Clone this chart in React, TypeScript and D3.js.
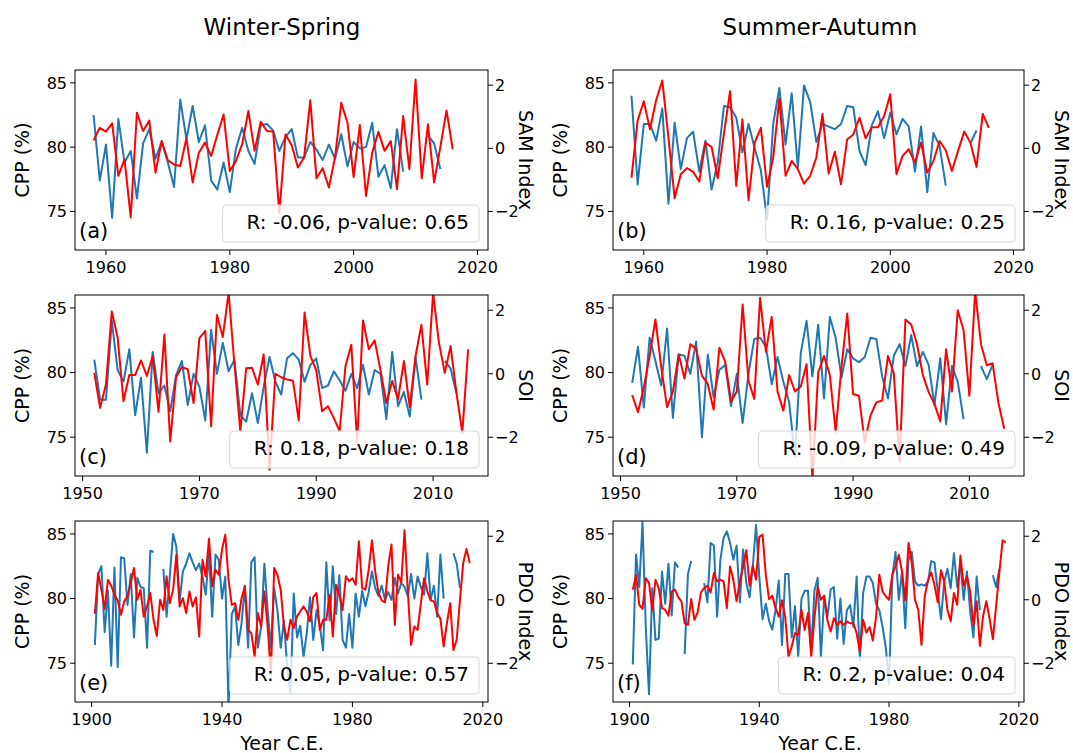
import { useEffect, useRef } from 'react';
import * as d3 from 'd3';

const FONT = '"DejaVu Sans", sans-serif';
const BLUE = '#1f77b4';
const RED = '#ff0000';

// (a) Winter-Spring CPP vs SAM
const cppWsSamStart = 1958;
const cppWsSam = [
  82.5, 77.4, 80.2, 74.5, 82.2, 78.8, 79.7, 76.0, 80.3, 81.4,
  79.1, 80.4, 78.8, 76.9, 83.7, 80.6, 83.2, 80.4, 81.7, 77.4,
  76.7, 78.8, 76.5, 79.9, 81.5, 79.7, 78.7, 81.7, 81.8, 81.3,
  79.7, 80.8, 81.4, 79.2, 79.2, 80.4, 79.8, 79.0, 80.2, 79.1,
  81.0, 78.5, 80.4, 79.9, 80.0, 81.9, 77.7, 78.6, 76.8, 81.4,
  78.1, null, null, null, 80.9, 80.3, 78.3,
];
const samWsStart = 1958;
const samWs = [
  0.25, 0.65, 0.53, 0.79, -0.87, -0.35, -2.19, 1.13, 0.55, 0.88,
  -0.77, 0.23, -0.38, -0.51, -0.56, 0.32, -1.08, -0.14, 0.18, -0.24,
  0.44, 1.07, -0.72, -0.4, 0.13, 1.18, -0.08, 0.84, 0.55, 0.53,
  -2.05, 0.44, 0.1, -0.61, -0.29, 1.52, -0.95, -0.63, -1.24, -0.29,
  1.44, 0.81, -0.91, 0.74, -1.51, -0.14, 0.52, -0.08, 0.23, -1.29,
  1.02, -0.66, 2.18, -0.95, 0.76, -1.08, 0.04, 1.2, -0.03,
];

// (b) Summer-Autumn CPP vs SAM
const cppSaSamStart = 1958;
const cppSaSam = [
  84.0, 77.1, 81.8, 81.8, 80.5, 83.0, 75.6, 81.9, 78.3, 80.7,
  81.2, 78.1, 80.5, 76.7, 78.8, 83.2, 83.1, 82.3, 79.6, 81.8,
  79.9, 78.2, 74.4, 81.8, 84.6, 80.2, 84.2, 78.4, 84.8, 83.5,
  80.4, 81.8, 81.6, 81.4, 81.8, 83.2, 83.1, 79.7, 78.6, 81.7,
  82.8, 80.7, 82.7, 81.0, 82.2, 81.6, 78.1, 81.6, 76.5, 81.1,
  80.1, 77.0, null, null, null, 80.3, 81.3,
];
const samSaStart = 1958;
const samSa = [
  -0.93, 0.88, 1.49, 0.6, 1.52, 2.15, 0.34, -1.58, -0.82, -0.63,
  -0.74, -1.05, 0.18, 0.04, -0.95, 0.46, 1.81, -1.19, 0.92, -1.64,
  0.18, 0.65, -1.22, -0.29, 1.58, -0.87, -0.4, -0.66, -1.12, -0.87,
  -0.29, 1.09, -0.8, -0.11, -1.14, 0.28, 0.44, 0.97, 0.32, 0.67,
  0.67, 1.02, 1.71, -0.82, -0.24, -0.03, -0.45, 0.18, -0.77, -0.4,
  0.23, -0.06, -0.72, -0.08, 0.53, 0.18, -0.59, 1.09, 0.65,
];

// (c) Winter-Spring CPP vs SOI
const cppWsSoiStart = 1952;
const cppWsSoi = [
  81.0, 77.9, 77.9, 84.0, 80.2, 79.3, 81.8, 76.7, 79.6, 73.8,
  81.6, 78.4, 79.0, 77.0, 79.8, 80.9, 77.5, 79.9, 78.9, 76.3,
  83.3, 79.9, 82.3, 80.1, 81.0, 76.7, 76.2, 78.4, 76.1, 78.9,
  81.2, 79.3, 78.3, 81.1, 81.5, 81.0, 79.3, 80.6, 81.1, 78.8,
  79.0, 80.1, 79.4, 78.6, 79.9, 78.8, 80.6, 78.3, 80.2, 79.9,
  76.4, 81.6, 77.4, 78.5, 76.6, 81.2, 77.9, null, null, null,
  80.9, 80.3, 78.4,
];
const soiWsStart = 1952;
const soiWs = [
  0.03, -1.07, -0.34, 1.96, 1.14, -0.86, -0.04, -0.04, 0.42, -0.07,
  0.56, -1.2, 1.24, -2.13, -0.11, 0.21, 0.14, -0.92, 1.12, 1.35,
  -1.65, 1.85, 1.16, 2.55, 0.29, -1.81, 0.17, 0.19, -0.34, 0.61,
  -3.02, 0.0, -0.11, -0.18, -0.21, -1.47, 1.93, 0.56, 0.11, -1.18,
  -1.02, -1.39, -1.81, 0.24, 0.91, -2.13, 1.68, 0.77, 1.05, 0.11,
  -0.92, -0.23, -0.81, 0.4, -1.05, 0.56, 1.54, -0.34, 2.55, 0.98,
  0.03, 0.87, -0.6, -1.86, 0.77,
];

// (d) Summer-Autumn CPP vs SOI
const cppSaSoiStart = 1952;
const cppSaSoi = [
  79.2, 82.0, 77.3, 82.7, 80.9, 79.0, 83.4, 76.5, 81.4, 81.3,
  79.9, 82.4, 75.0, 81.4, 78.1, 80.2, 80.6, 77.4, 79.9, 76.1,
  79.9, 82.6, 82.7, 82.0, 79.1, 81.2, 79.3, 77.7, 73.5, 81.5,
  84.0, 79.7, 83.7, 78.0, 84.3, 82.7, 79.6, 81.8, 81.1, 80.8,
  81.2, 82.7, 82.6, 79.7, 78.0, 81.3, 82.2, 80.5, 82.9, 80.5,
  81.6, 80.6, 77.5, 81.1, 76.0, 80.5, 79.3, 76.4, null, null,
  80.5, 79.5, 80.6,
];
const soiSaStart = 1952;
const soiSa = [
  -0.67, -1.21, -0.43, 0.56, 1.71, 0.2, -1.05, -0.56, 0.61, -0.15,
  0.93, 0.79, -0.06, -0.32, -1.13, 0.82, 0.38, -0.88, -0.56, 2.18,
  -0.22, -0.79, 2.39, 0.69, 1.79, -0.56, -1.16, -0.04, -0.56, -0.4,
  0.3, -3.3, 0.04, 0.56, -0.04, -1.83, 0.2, 1.9, -0.64, -0.69,
  -2.15, -1.31, -0.9, -0.84, 0.56, 0.02, -2.77, 1.71, 1.55, 0.93,
  -0.04, -0.58, -0.95, -1.5, 0.77, -0.56, 2.0, 1.38, -0.69, 2.6,
  0.93, 0.27, 0.33, -0.92, -1.73,
];

// (e) Winter-Spring CPP vs PDO
const cppWsPdoStart = 1901;
const cppWsPdo = [
  76.4, 81.9, 82.5, 77.4, 80.6, 74.8, 82.4, 74.7, 83.2, 83.1,
  79.5, 81.9, 77.0, 81.6, 80.9, 80.8, 76.2, 83.7, 83.6, null,
  null, 82.3, 78.6, 81.8, 85.0, 84.0, 79.8, 82.1, 82.7, 83.5,
  82.8, 82.2, 82.7, 81.7, 80.3, 83.5, 78.6, 83.4, 83.0, 80.0,
  81.7, 71.5, 78.8, 79.4, 76.4, 78.1, 81.0, 76.2, 82.8, 83.2,
  76.2, 77.8, 82.7, 79.1, 76.2, 80.8, 79.1, 76.2, 78.3, 74.7,
  72.7, 80.4, 77.0, 77.9, 75.5, 77.3, 80.1, 76.8, 79.1, 77.9,
  76.0, 82.8, 78.3, 82.5, 78.8, 81.8, 76.8, 76.2, 78.8, 76.2,
  80.4, 78.6, 80.6, 79.4, 80.5, 82.1, 80.8, 80.2, 81.0, 79.9,
  80.5, 79.9, 81.6, 80.4, 81.2, 80.9, 80.2, 81.9, 80.0, 81.7,
  80.9, 80.3, 83.5, 79.9, 81.0, 78.6, 83.4, 80.0, null, null,
  83.5, 82.7, 80.8,
];
const pdoWsStart = 1901;
const pdoWs = [
  -0.44, 0.84, 0.32, -0.29, 0.63, 0.44, 0.16, -0.02, -0.47, -0.05,
  0.11, 0.53, 1.0, 0.0, 0.32, -0.53, -0.21, 0.21, -0.63, -1.14,
  0.0, -0.32, 0.74, -0.11, 0.32, 1.42, -0.21, 0.05, -0.42, 0.26,
  -0.21, 0.08, -1.16, 1.26, 0.74, 1.92, 0.42, 0.95, 0.79, 1.58,
  2.05, 0.63, -0.16, -0.11, -0.63, 0.05, 0.42, -0.95, -1.05, -1.79,
  -0.42, -0.84, 0.26, -0.84, -2.32, 1.0, 0.79, 0.32, -0.84, -1.26,
  -0.63, -0.89, -0.53, -0.37, -0.21, -0.37, -0.68, 0.08, 0.21, -0.95,
  -0.63, -0.63, 0.16, -1.16, 0.47, 0.16, -0.32, 0.74, 0.58, 0.68,
  0.47, 1.84, 0.37, 0.32, 0.95, 1.87, 0.89, 0.21, -0.02, -0.08,
  1.07, 1.74, -0.79, 0.79, 0.55, 2.19, 0.26, -1.42, -0.84, -0.95,
  -0.11, 0.68, 0.26, -0.02, -0.05, -0.42, -0.6, -1.47, -0.74, -0.11,
  -1.58, -1.26, 0.0, 1.16, 1.6, 1.16,
];

// (f) Summer-Autumn CPP vs PDO
const cppSaPdoStart = 1901;
const cppSaPdo = [
  74.9, 83.4, 80.9, 85.9, 77.8, 72.6, 80.8, 76.8, 76.9, 82.1,
  79.6, 82.7, 78.7, 82.8, 82.4, null, 75.7, 81.9, 82.9, null,
  null, null, 81.2, 79.7, 84.3, 84.1, 78.6, 83.0, 84.7, 85.2,
  84.3, 83.0, 84.1, 79.7, 83.8, 81.2, 80.1, 82.5, 85.7, 81.7,
  78.4, 79.6, 78.3, 77.6, 79.1, 81.4, 76.4, 81.9, 81.9, 77.0,
  79.4, 75.5, 80.0, 80.6, 80.6, 76.0, 80.6, 81.6, 75.5, 80.1,
  78.6, 80.7, 80.9, 76.9, 80.0, 76.5, 79.1, 79.5, 77.8, 81.7,
  75.2, 80.4, 81.7, 81.7, 81.2, 79.6, 79.1, 77.8, 76.2, 73.4,
  81.7, 83.6, 79.9, 82.1, 77.7, 83.0, 83.6, 81.3, 81.0, 81.1,
  81.0, 81.3, 82.9, 82.8, 80.6, 78.4, 81.3, 82.3, 80.8, 83.5,
  80.9, 82.7, 79.9, 82.1, 79.0, 77.0, 81.7, 79.1, null, null,
  null, 81.8, 80.9, 82.3,
];
const pdoSaStart = 1901;
const pdoSa = [
  0.32, 0.79, -0.16, -0.29, 0.68, 0.53, -0.32, 0.63, 0.37, -0.26,
  -0.32, -0.5, 0.26, 0.32, 0.08, -0.05, -0.74, -0.79, 0.02, -0.63,
  -0.4, 0.23, 0.37, 0.44, 0.23, 0.84, 0.58, 0.63, 0.58, -0.26,
  1.05, 0.63, -0.05, 0.58, 1.03, 1.56, 0.44, 1.07, 0.63, 1.98,
  2.05, 0.79, 0.02, 0.13, -0.26, -0.53, -0.02, -0.55, -1.79, -1.47,
  -1.05, -1.1, -0.32, -0.95, -0.42, -1.79, -0.58, 0.4, 0.0, 0.13,
  -0.65, -1.0, -0.58, -0.79, -0.68, -0.79, -0.68, -0.74, -0.74, -1.05,
  -1.63, -0.63, -1.03, -0.86, -1.28, -0.53, 0.79, 0.26, 0.11, 0.0,
  0.79, 1.05, 1.42, 0.89, -0.02, 1.79, 1.16, 0.0, -0.32, -1.42,
  0.11, 0.61, 0.86, 0.47, -0.08, 0.93, 0.58, -0.32, -0.68, 0.21,
  -0.16, 1.39, 0.44, 0.74, 0.26, -0.79, -0.05, -1.45, -0.5, -0.05,
  -0.6, -1.24, -0.2, 0.85, 1.87, 1.81,
];

const cppTicks = [75, 80, 85];
const idxTicks = [-2, 0, 2];
const cppDomain = [72, 86];
const idxDomain = [-3.22, 2.48];

interface PanelDef {
  letter: string;
  left: number;
  top: number;
  width: number;
  height: number;
  xDomain: [number, number];
  xTicks: number[];
  cpp: (number | null)[];
  cppStart: number;
  idx: (number | null)[];
  idxStart: number;
  idxLabel: string;
  stat: string;
}

const panels: PanelDef[] = [
  { letter: '(a)', left: 75, top: 70, width: 413, height: 180, xDomain: [1955, 2021.7], xTicks: [1960, 1980, 2000, 2020],
    cpp: cppWsSam, cppStart: cppWsSamStart, idx: samWs, idxStart: samWsStart, idxLabel: 'SAM Index', stat: 'R: -0.06, p-value: 0.65' },
  { letter: '(b)', left: 613, top: 70, width: 411, height: 180, xDomain: [1955, 2021.7], xTicks: [1960, 1980, 2000, 2020],
    cpp: cppSaSam, cppStart: cppSaSamStart, idx: samSa, idxStart: samSaStart, idxLabel: 'SAM Index', stat: 'R: 0.16, p-value: 0.25' },
  { letter: '(c)', left: 75, top: 295, width: 413, height: 181, xDomain: [1948.7, 2019.4], xTicks: [1950, 1970, 1990, 2010],
    cpp: cppWsSoi, cppStart: cppWsSoiStart, idx: soiWs, idxStart: soiWsStart, idxLabel: 'SOI', stat: 'R: 0.18, p-value: 0.18' },
  { letter: '(d)', left: 613, top: 295, width: 411, height: 181, xDomain: [1948.7, 2019.4], xTicks: [1950, 1970, 1990, 2010],
    cpp: cppSaSoi, cppStart: cppSaSoiStart, idx: soiSa, idxStart: soiSaStart, idxLabel: 'SOI', stat: 'R: -0.09, p-value: 0.49' },
  { letter: '(e)', left: 75, top: 521, width: 413, height: 181, xDomain: [1894.9, 2021.6], xTicks: [1900, 1940, 1980, 2020],
    cpp: cppWsPdo, cppStart: cppWsPdoStart, idx: pdoWs, idxStart: pdoWsStart, idxLabel: 'PDO Index', stat: 'R: 0.05, p-value: 0.57' },
  { letter: '(f)', left: 613, top: 521, width: 411, height: 181, xDomain: [1894.9, 2021.6], xTicks: [1900, 1940, 1980, 2020],
    cpp: cppSaPdo, cppStart: cppSaPdoStart, idx: pdoSa, idxStart: pdoSaStart, idxLabel: 'PDO Index', stat: 'R: 0.2, p-value: 0.04' },
];

const fmt = (v: number) => (v < 0 ? '\u2212' + Math.abs(v) : String(v));

function drawPanel(root: d3.Selection<SVGSVGElement, unknown, null, undefined>, p: PanelDef, i: number) {
  const right = p.left + p.width;
  const bottom = p.top + p.height;
  const x = d3.scaleLinear().domain(p.xDomain).range([p.left, right]);
  const yL = d3.scaleLinear().domain(cppDomain).range([bottom, p.top]);
  const yR = d3.scaleLinear().domain(idxDomain).range([bottom, p.top]);

  const g = root.append('g');
  const clipId = `clip-${i}`;
  g.append('clipPath').attr('id', clipId)
    .append('rect').attr('x', p.left).attr('y', p.top).attr('width', p.width).attr('height', p.height);

  const cppLine = d3.line<number | null>()
    .defined((d) => d != null)
    .x((_, k) => x(p.cppStart + k))
    .y((d) => yL(d as number));
  const idxLine = d3.line<number | null>()
    .defined((d) => d != null)
    .x((_, k) => x(p.idxStart + k))
    .y((d) => yR(d as number));

  const lines = g.append('g').attr('clip-path', `url(#${clipId})`);
  lines.append('path').datum(p.cpp).attr('d', cppLine)
    .attr('fill', 'none').attr('stroke', BLUE).attr('stroke-width', 2).attr('stroke-linejoin', 'round');
  lines.append('path').datum(p.idx).attr('d', idxLine)
    .attr('fill', 'none').attr('stroke', RED).attr('stroke-width', 2).attr('stroke-linejoin', 'round');

  // stats box (lower right)
  const box = g.append('g');
  const rect = box.append('rect');
  const txt = box.append('text')
    .attr('x', right - 19).attr('y', bottom - 21)
    .attr('text-anchor', 'end')
    .style('font-family', FONT).style('font-size', '20px').attr('fill', '#000')
    .text(p.stat);
  const bb = (txt.node() as SVGTextElement).getBBox();
  rect.attr('x', bb.x - 24).attr('y', bottom - 45)
    .attr('width', right - 9 - (bb.x - 24)).attr('height', 37)
    .attr('rx', 4)
    .attr('fill', '#fff').attr('fill-opacity', 0.8)
    .attr('stroke', '#d6d6d6').attr('stroke-width', 1);

  // panel letter
  g.append('text').attr('x', p.left + 4).attr('y', bottom - 12)
    .style('font-family', FONT).style('font-size', '21px').text(p.letter);

  // frame
  g.append('rect').attr('x', p.left).attr('y', p.top).attr('width', p.width).attr('height', p.height)
    .attr('fill', 'none').attr('stroke', '#000').attr('stroke-width', 1);

  // x ticks
  p.xTicks.forEach((t) => {
    g.append('line').attr('x1', x(t)).attr('x2', x(t)).attr('y1', bottom).attr('y2', bottom + 5).attr('stroke', '#000');
    g.append('text').attr('x', x(t)).attr('y', bottom + 23).attr('text-anchor', 'middle')
      .style('font-family', FONT).style('font-size', '16px').text(String(t));
  });
  // left ticks
  cppTicks.forEach((t) => {
    g.append('line').attr('x1', p.left - 5).attr('x2', p.left).attr('y1', yL(t)).attr('y2', yL(t)).attr('stroke', '#000');
    g.append('text').attr('x', p.left - 8).attr('y', yL(t)).attr('dy', '0.36em').attr('text-anchor', 'end')
      .style('font-family', FONT).style('font-size', '16px').text(String(t));
  });
  // right ticks
  idxTicks.forEach((t) => {
    g.append('line').attr('x1', right).attr('x2', right + 5).attr('y1', yR(t)).attr('y2', yR(t)).attr('stroke', '#000');
    g.append('text').attr('x', right + 7).attr('y', yR(t)).attr('dy', '0.36em').attr('text-anchor', 'start')
      .style('font-family', FONT).style('font-size', '16px').text(fmt(t));
  });

  const midY = (p.top + bottom) / 2;
  g.append('text').attr('transform', `translate(${p.left - 46},${midY}) rotate(-90)`)
    .attr('text-anchor', 'middle').style('font-family', FONT).style('font-size', '19px').text('CPP (%)');
  g.append('text').attr('transform', `translate(${right + 31},${midY}) rotate(90)`)
    .attr('text-anchor', 'middle').style('font-family', FONT).style('font-size', '19px').text(p.idxLabel);
}

export default function App() {
  const ref = useRef<SVGSVGElement>(null);

  useEffect(() => {
    if (!ref.current) return;
    const svg = d3.select(ref.current);
    svg.selectAll('*').remove();

    svg.append('rect').attr('width', 1073).attr('height', 753).attr('fill', '#fff');

    panels.forEach((p, i) => drawPanel(svg, p, i));

    // column titles
    [['Winter-Spring', 282], ['Summer-Autumn', 820]].forEach(([t, cx]) => {
      svg.append('text').attr('x', cx as number).attr('y', 35).attr('text-anchor', 'middle')
        .style('font-family', FONT).style('font-size', '23px').text(t as string);
    });
    // x labels
    [282, 820].forEach((cx) => {
      svg.append('text').attr('x', cx).attr('y', 750).attr('text-anchor', 'middle')
        .style('font-family', FONT).style('font-size', '19px').text('Year C.E.');
    });
  }, []);

  return (
    <svg ref={ref} width={1073} height={753} style={{ position: 'absolute', left: 0, top: 0 }} />
  );
}
